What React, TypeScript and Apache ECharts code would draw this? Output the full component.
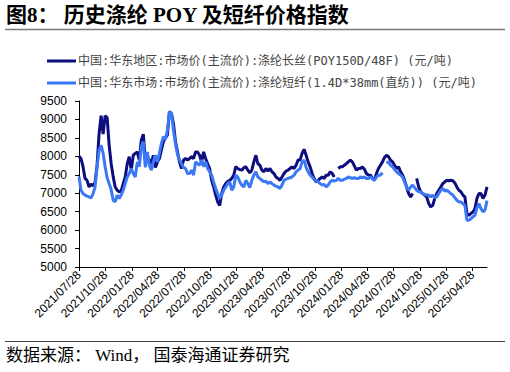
import React, { useEffect, useRef } from "react";
import * as echarts from "echarts";

// Weekly observations beginning 2021-07-28 (one value per week)
const firstWeek = "2021-07-28";
const axisEnd = "2025-06-18";

// 中国:华东地区:市场价(主流价):涤纶长丝(POY150D/48F) (元/吨)
const poyValues: (number | null)[] = [
  8000, 7940, 7720, 7400, 7350,
  7170, 7250, 7200, 7300, 7760,
  8620, 9100, 8600, 9100, 9050,
  8300, 7800, 7450, 7170, 7080,
  7040, 7060, 7260, 7440, 7800,
  7990, 7620, 8030, 8080, 8120,
  7900, 8440, 8600, 7900, 7990,
  7900, 7800, 8030, 7700, 7850,
  7940, 8170, 8400, 8500, 8580,
  9210, 9160, 8890, 8400, 8120,
  7850, 7670, 7900, 7940, 7900,
  7940, 7990, 7940, 8120, 8120,
  8030, 7850, 8120, 7940, 7800,
  7670, 7350, 7170, 6950, 6765,
  6670, 6990, 7170, 7260, 7320,
  7350, 7400, 7490, 7720, 7670,
  7640, 7625, 7690, 7720, 7625,
  7550, 7625, 7850, 8030, 7800,
  7760, 7625, 7580, 7670, 7600,
  7670, 7580, 7535, 7440, 7400,
  7350, 7440, 7535, 7600, 7625,
  7670, 7715, 7670, 7760, 7900,
  7900, 8080, 8190, 8030, 7850,
  7715, 7535, 7400, 7310, 7350,
  7400, 7440, 7400, 7490, 7490,
  7580, 7535, 7440, null, 7670,
  7715, 7715, 7760, 7800, 7850,
  7900, 7850, 7740, 7625, 7670,
  7670, 7715, 7650, 7535, 7490,
  7490, 7400, 7350, 7535, 7670,
  7760, 7850, 7970, 8030, 7990,
  7900, 7850, 7760, 7670, 7715,
  7580, 7490, 7350, 7170, 6990,
  6900, 6990, null, 7400, 7170,
  7040, 6990, 6950, 6900, 6720,
  6630, 6670, 6860, 6990, 7080,
  7170, 7260, 7310, 7350, 7340,
  7350, 7340, 7280, 7170, 7080,
  7040, 6950, 6900, 6450, 6400,
  6450, 6490, 6580, 6860, 6990,
  6990, 6860, 6950, 7170,
];

// 中国:华东市场:市场价(主流价):涤纶短纤(1.4D*38mm(直纺)) (元/吨)
const psfValues: (number | null)[] = [
  7450, 7080, 6990, 6950, 6920,
  6900, 6870, 6990, 7170, 7715,
  8170, 8300, 8080, 7720, 7420,
  7260, 7100, 6810, 6765, 6950,
  6860, 6950, 7080, 7260, 7440,
  7535, 7670, 7535, 7440, 7850,
  7720, 8260, 8400, 7700, 8120,
  7760, 7625, 7850, 8030, 7850,
  8080, 8350, 8530, 8460, 8710,
  9210, 9160, 8710, 8350, 8050,
  7900, 7800, 7700, 7670, 7535,
  7535, 7625, 7490, 7850, 7800,
  7760, 7900, 7720, 7850, 7670,
  7580, 7490, 7300, 7130, 6990,
  6860, 6950, 7080, 7170, 7260,
  7310, 7080, 7170, 7490, 7440,
  7310, 7220, 7170, 7350, 7260,
  7150, 7350, 7490, 7580, 7440,
  7400, 7350, 7310, 7330, 7260,
  7310, 7260, 7220, 7190, 7170,
  7130, 7220, 7350, 7380, 7400,
  7420, 7440, 7490, 7580, 7625,
  7670, 7850, 7900, 7700, 7580,
  7490, 7440, 7370, 7350, 7310,
  7260, 7220, 7240, 7170, 7220,
  7310, 7350, 7330, 7350, 7400,
  7350, 7350, 7380, 7400, 7440,
  7420, 7400, 7420, 7400, 7400,
  7440, 7420, 7440, 7400, 7400,
  7440, 7400, 7350, 7440, 7490,
  7490, 7560, null, 7820, 7850,
  7760, 7715, 7650, 7580, 7535,
  7490, 7440, 7300, 7170, 7080,
  7170, 7220, 7150, 7080, 7040,
  7040, 6990, 6970, 6950, 6950,
  6900, 6950, 6880, 6900, 6990,
  7080, 7130, 7060, 7080, 7040,
  6990, 6950, 6880, 6810, 6765,
  6765, 6720, 6670, 6270, 6270,
  6310, 6360, 6400, 6600, 6720,
  6580, 6500, 6540, 6800,
];

const xTickLabels = [
  "2021/07/28", "2021/10/28", "2022/01/28", "2022/04/28",
  "2022/07/28", "2022/10/28", "2023/01/28", "2023/04/28",
  "2023/07/28", "2023/10/28", "2024/01/28", "2024/04/28",
  "2024/07/28", "2024/10/28", "2025/01/28", "2025/04/28",
];

const seriesNames = [
  "中国:华东地区:市场价(主流价):涤纶长丝(POY150D/48F) (元/吨)",
  "中国:华东市场:市场价(主流价):涤纶短纤(1.4D*38mm(直纺)) (元/吨)",
];

const DAY = 86400000;
const toTs = (s: string) => Date.parse(s.replace(/\//g, "-") + "T00:00:00Z");
const fmt = (ts: number) => {
  const d = new Date(ts);
  const m = String(d.getUTCMonth() + 1).padStart(2, "0");
  const dd = String(d.getUTCDate()).padStart(2, "0");
  return `${d.getUTCFullYear()}/${m}/${dd}`;
};

export default function App() {
  const ref = useRef<HTMLDivElement>(null);
  useEffect(() => {
    if (!ref.current) return;
    const chart = echarts.init(ref.current, null, { renderer: "svg" });
    const t0 = toTs(firstWeek);
    const pair = (arr: (number | null)[]) =>
      arr.map((v, i) => [t0 + i * 7 * DAY, v]);
    const tickVals = xTickLabels.map(toTs);
    const serif = "'Liberation Serif', 'Times New Roman', 'Noto Sans CJK SC', serif";
    chart.setOption({
      animation: false,
      backgroundColor: "#ffffff",
      grid: { left: 79, right: 23, top: 101, bottom: 105, containLabel: false },
      legend: {
        orient: "vertical",
        left: 42,
        top: 50,
        itemWidth: 29,
        itemHeight: 3,
        itemGap: 10,
        icon: "rect",
        textStyle: {
          fontSize: 12,
          color: "#444",
          fontFamily: "'DejaVu Sans Mono', 'Noto Sans CJK SC', monospace",
          padding: [0, 0, 0, -3],
        },
        data: seriesNames,
      },
      xAxis: {
        type: "value",
        min: t0,
        max: toTs(axisEnd),
        splitLine: { show: false },
        axisLine: { show: true, onZero: false, lineStyle: { color: "#000", width: 1 } },
        axisTick: {
          show: true,
          customValues: tickVals,
          length: 4,
          inside: false,
          lineStyle: { color: "#000" },
        },
        axisLabel: {
          customValues: tickVals,
          formatter: (v: number) => fmt(v),
          rotate: 45,
          fontSize: 12,
          color: "#000",
          margin: 6,
          fontFamily: "'Liberation Sans', Arial, sans-serif",
        },
      },
      yAxis: {
        type: "value",
        min: 5000,
        max: 9500,
        interval: 500,
        splitLine: { show: false },
        axisLine: { show: true, lineStyle: { color: "#000", width: 1 } },
        axisTick: { show: true, length: 4, lineStyle: { color: "#000" } },
        axisLabel: {
          fontSize: 12,
          color: "#000",
          margin: 12,
          formatter: (v: number) => String(v),
          fontFamily: "'Liberation Sans', Arial, sans-serif",
        },
      },
      series: [
        {
          name: seriesNames[0],
          type: "line",
          data: pair(poyValues),
          showSymbol: false,
          connectNulls: false,
          lineStyle: { width: 3, color: "#0d0d7d" },
          itemStyle: { color: "#0d0d7d" },
        },
        {
          name: seriesNames[1],
          type: "line",
          data: pair(psfValues),
          showSymbol: false,
          connectNulls: false,
          lineStyle: { width: 3, color: "#3b78f6" },
          itemStyle: { color: "#3b78f6" },
        },
      ],
      graphic: [
        {
          type: "text",
          left: 6,
          top: 4,
          style: {
            text: "图8： 历史涤纶 POY 及短纤价格指数",
            font: `bold 21px ${serif}`,
            fill: "#000",
          },
        },
        {
          type: "line",
          shape: { x1: 5, y1: 29.5, x2: 505, y2: 29.5 },
          style: { stroke: "#7a7a7a", lineWidth: 1.5 },
        },
        {
          type: "line",
          shape: { x1: 5, y1: 341.5, x2: 505, y2: 341.5 },
          style: { stroke: "#444", lineWidth: 1 },
        },
        {
          type: "text",
          left: 6,
          top: 347,
          style: {
            text: "数据来源： Wind， 国泰海通证券研究",
            font: `17px ${serif}`,
            fill: "#000",
          },
        },
      ],
    });
    return () => chart.dispose();
  }, []);
  return (
    <div
      ref={ref}
      style={{ width: 510, height: 372, position: "absolute", left: 0, top: 0 }}
    />
  );
}
